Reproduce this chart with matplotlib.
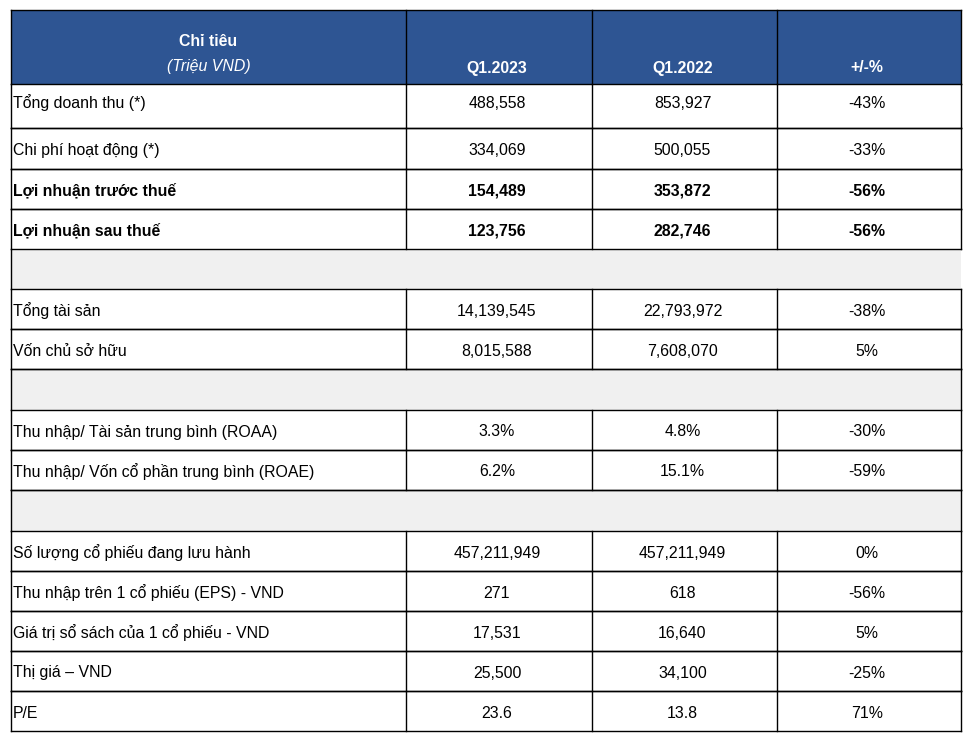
import matplotlib
matplotlib.use("Agg")
import matplotlib.pyplot as plt
from matplotlib.patches import Rectangle

plt.rcParams['font.family'] = ['Liberation Sans', 'DejaVu Sans']

header_title = "Chỉ tiêu"
header_unit = "(Triệu VND)"
col_headers = ["Q1.2023", "Q1.2022", "+/-%"]

# None marks a blank grey separator row
labels = [
    "Tổng doanh thu (*)",
    "Chi phí hoạt động (*)",
    "Lợi nhuận trước thuế",
    "Lợi nhuận sau thuế",
    None,
    "Tổng tài sản",
    "Vốn chủ sở hữu",
    None,
    "Thu nhập/ Tài sản trung bình (ROAA)",
    "Thu nhập/ Vốn cổ phần trung bình (ROAE)",
    None,
    "Số lượng cổ phiếu đang lưu hành",
    "Thu nhập trên 1 cổ phiếu (EPS) - VND",
    "Giá trị sổ sách của 1 cổ phiếu - VND",
    "Thị giá – VND",
    "P/E",
]
q1_2023 = ["488,558", "334,069", "154,489", "123,756", None, "14,139,545", "8,015,588", None,
           "3.3%", "6.2%", None, "457,211,949", "271", "17,531", "25,500", "23.6"]
q1_2022 = ["853,927", "500,055", "353,872", "282,746", None, "22,793,972", "7,608,070", None,
           "4.8%", "15.1%", None, "457,211,949", "618", "16,640", "34,100", "13.8"]
change = ["-43%", "-33%", "-56%", "-56%", None, "-38%", "5%", None,
          "-30%", "-59%", None, "0%", "-56%", "5%", "-25%", "71%"]
bold_rows = {2, 3}

W, H = 970, 739
fig = plt.figure(figsize=(W / 100, H / 100), dpi=100)
ax = fig.add_axes([0, 0, 1, 1])
ax.set_xlim(0, W)
ax.set_ylim(H, 0)
ax.axis('off')

blue = '#2E5593'
grey = '#F0F0F0'
lw = 1.0
fs = 11.4

col_x = [11, 406, 592, 777, 961]
header_top, header_bot = 10, 84
row_b = [84, 128, 169, 209, 249, 289, 329, 369, 410, 450, 490, 531, 571, 611, 651, 691, 731]

# header
ax.add_patch(Rectangle((col_x[0], header_top), col_x[-1] - col_x[0], header_bot - header_top,
                       facecolor=blue, edgecolor='none'))
ax.text((col_x[0] + col_x[1]) / 2, 41, header_title, color='white', fontsize=fs,
        fontweight='bold', ha='center', va='center')
ax.text((col_x[0] + col_x[1]) / 2, 67, header_unit, color='white', fontsize=fs,
        fontstyle='italic', ha='center', va='center')
for j, h in enumerate(col_headers):
    ax.text((col_x[j + 1] + col_x[j + 2]) / 2 - 2, 68, h, color='white', fontsize=fs,
            fontweight='bold', ha='center', va='center')

# header borders
ax.plot([col_x[0], col_x[-1]], [header_top, header_top], color='black', lw=lw)
for x in col_x:
    ax.plot([x, x], [header_top, header_bot], color='black', lw=lw)

first_grey = True
for i, lab in enumerate(labels):
    y0, y1 = row_b[i], row_b[i + 1]
    yc = (y0 + y1) / 2 + 2
    if i == 0:
        yc = 103
    if lab is None:
        ax.add_patch(Rectangle((col_x[0], y0), col_x[-1] - col_x[0], y1 - y0,
                               facecolor=grey, edgecolor='none'))
        ax.plot([col_x[0], col_x[0]], [y0, y1], color='black', lw=lw)
        if first_grey:
            first_grey = False
        else:
            ax.plot([col_x[0], col_x[-1]], [y0, y0], color='black', lw=lw)
            ax.plot([col_x[-1], col_x[-1]], [y0, y1], color='black', lw=lw)
        ax.plot([col_x[0], col_x[-1]], [y1, y1], color='black', lw=lw)
        continue
    if i == 0 or labels[i - 1] is not None:
        ax.plot([col_x[0], col_x[-1]], [y0, y0], color='black', lw=lw)
    ax.plot([col_x[0], col_x[-1]], [y1, y1], color='black', lw=lw)
    for x in col_x:
        ax.plot([x, x], [y0, y1], color='black', lw=lw)
    fw = 'bold' if i in bold_rows else 'normal'
    ax.text(col_x[0] + 2, yc, lab, fontsize=fs, fontweight=fw, ha='left', va='center', color='black')
    for j, v in enumerate([q1_2023[i], q1_2022[i], change[i]]):
        ax.text((col_x[j + 1] + col_x[j + 2]) / 2 - 2, yc, v, fontsize=fs, fontweight=fw,
                ha='center', va='center', color='black')

fig.savefig('out.png', dpi=100, facecolor='white')
